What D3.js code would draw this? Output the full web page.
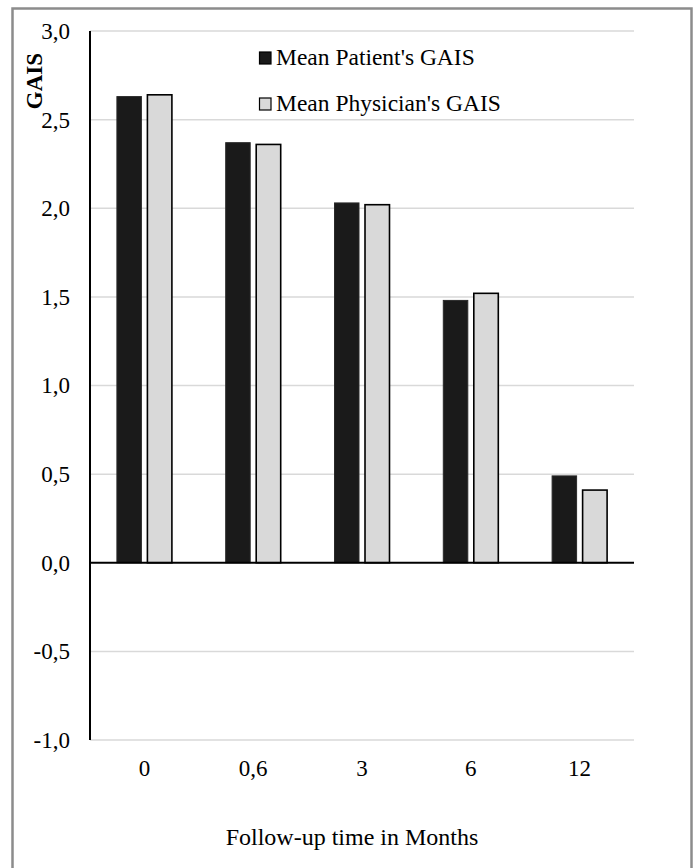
<!DOCTYPE html>
<html>
<head>
<meta charset="utf-8">
<script src="https://cdnjs.cloudflare.com/ajax/libs/d3/7.8.5/d3.min.js"></script>
<style>
  body { margin: 0; background: #fff; }
  svg text { font-family: 'Liberation Serif', 'Times New Roman', Times, serif; fill: #000; }
</style>
</head>
<body>
<script>
var categories = ['0', '0,6', '3', '6', '12'];
var seriesNames = ["Mean Patient's GAIS", "Mean Physician's GAIS"];
var patientValues = [2.63, 2.37, 2.03, 1.48, 0.49];
var physicianValues = [2.64, 2.36, 2.02, 1.52, 0.41];
var yTicks = [-1, -0.5, 0, 0.5, 1, 1.5, 2, 2.5, 3];

var svgWidth = 698,
    svgHeight = 868,
    margin = {top: 31, left: 90, right: 64, bottom: 128};

var plotRight = svgWidth - margin.right,
    plotBottom = svgHeight - margin.bottom;

var colors = {};
colors[seriesNames[0]] = {fill: '#1a1a1a', stroke: '#2a2a2a', sw: 1};
colors[seriesNames[1]] = {fill: '#d9d9d9', stroke: '#000', sw: 1.6};

var data = categories.map(function(c, i) {
  return {cat: c, values: [
    {name: seriesNames[0], value: patientValues[i]},
    {name: seriesNames[1], value: physicianValues[i]}
  ]};
});

// scales
var x0 = d3.scaleBand().domain(categories).range([margin.left, plotRight]);
var bw = x0.bandwidth();
var x1 = d3.scaleBand().domain(seriesNames)
    .range([bw / 2 - 27.5, bw / 2 + 27.5])
    .paddingInner(0.197);
var y = d3.scaleLinear().domain([-1, 3]).range([plotBottom, margin.top]);

var svg = d3.select('body').append('svg')
    .attr('width', svgWidth)
    .attr('height', svgHeight);

// outer frame (bottom edge runs off the picture)
svg.append('rect')
    .attr('x', 12.5).attr('y', 8.5)
    .attr('width', 679).attr('height', 900)
    .attr('fill', 'none')
    .attr('stroke', '#8c8c8c')
    .attr('stroke-width', 2.5);

// gridlines
svg.append('g')
  .selectAll('line')
  .data(yTicks.filter(function(d) { return d !== 0; }))
  .enter().append('line')
    .attr('x1', margin.left).attr('x2', plotRight)
    .attr('y1', function(d) { return y(d); })
    .attr('y2', function(d) { return y(d); })
    .attr('stroke', '#d9d9d9')
    .attr('stroke-width', 1.5);

// y axis labels
var yAxis = svg.append('g')
    .attr('transform', 'translate(' + margin.left + ',0)')
    .call(d3.axisLeft(y).tickValues(yTicks).tickSize(0).tickPadding(20)
      .tickFormat(function(d) { return d3.format('.1f')(d).replace('.', ',').replace('\u2212', '-'); }));
yAxis.attr('font-family', null).attr('font-size', null);
yAxis.select('.domain').remove();
yAxis.selectAll('text')
    .attr('font-size', '23px');

// bars
var groups = svg.append('g')
  .selectAll('g')
  .data(data)
  .enter().append('g')
    .attr('transform', function(d) { return 'translate(' + x0(d.cat) + ',0)'; });

groups.selectAll('rect')
  .data(function(d) { return d.values; })
  .enter().append('rect')
    .attr('x', function(d) { return x1(d.name); })
    .attr('width', x1.bandwidth())
    .attr('y', function(d) { return y(Math.max(0, d.value)); })
    .attr('height', function(d) { return Math.abs(y(d.value) - y(0)); })
    .attr('fill', function(d) { return colors[d.name].fill; })
    .attr('stroke', function(d) { return colors[d.name].stroke; })
    .attr('stroke-width', function(d) { return colors[d.name].sw; });

// zero line
svg.append('line')
    .attr('x1', margin.left).attr('x2', plotRight)
    .attr('y1', y(0)).attr('y2', y(0))
    .attr('stroke', '#000')
    .attr('stroke-width', 2.2);

// y axis line
svg.append('line')
    .attr('x1', margin.left).attr('x2', margin.left)
    .attr('y1', y(3)).attr('y2', y(-1))
    .attr('stroke', '#000')
    .attr('stroke-width', 2);

// x axis labels under the plot
var xAxis = svg.append('g')
    .attr('transform', 'translate(0,' + plotBottom + ')')
    .call(d3.axisBottom(x0).tickSize(0).tickPadding(20));
xAxis.attr('font-family', null).attr('font-size', null);
xAxis.select('.domain').remove();
xAxis.selectAll('text')
    .attr('font-size', '23px');

// axis titles
svg.append('text')
    .attr('x', 352)
    .attr('y', 845)
    .attr('text-anchor', 'middle')
    .attr('font-size', '24px')
    .text('Follow-up time in Months');

svg.append('text')
    .attr('transform', 'translate(42,81) rotate(-90)')
    .attr('text-anchor', 'middle')
    .attr('font-size', '23px')
    .attr('font-weight', 'bold')
    .text('GAIS');

// legend
var legend = svg.append('g')
  .selectAll('g')
  .data(seriesNames)
  .enter().append('g')
    .attr('transform', function(d, i) { return 'translate(259,' + (65 + i * 46) + ')'; });

legend.append('rect')
    .attr('x', 0.5).attr('y', -13)
    .attr('width', 11.5).attr('height', 12)
    .attr('fill', function(d) { return colors[d].fill; })
    .attr('stroke', '#000')
    .attr('stroke-width', 1.2);

legend.append('text')
    .attr('x', 17)
    .attr('y', 0)
    .attr('font-size', '23.5px')
    .text(function(d) { return d; });
</script>
</body>
</html>
